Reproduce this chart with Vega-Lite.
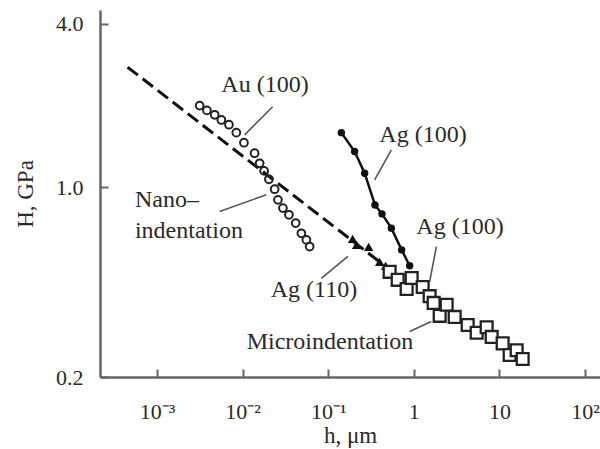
{
  "$schema": "https://vega.github.io/schema/vega-lite/v6.json",
  "width": 500,
  "height": 367,
  "autosize": {"type": "none"},
  "padding": {"left": 100, "top": 10, "right": 0, "bottom": 72},
  "background": "white",
  "config": {
    "view": {"stroke": null},
    "font": "Liberation Serif",
    "axis": {
      "grid": false,
      "domainColor": "#666",
      "domainWidth": 2.5,
      "tickColor": "#666",
      "tickWidth": 2,
      "tickSize": -8,
      "labelFont": "Liberation Serif",
      "labelFontSize": 22,
      "labelColor": "#2a2a2a",
      "titleFont": "Liberation Serif",
      "titleFontSize": 23,
      "titleFontWeight": "normal",
      "titleColor": "#2a2a2a"
    }
  },
  "datasets": {
    "au": [
      {"h": 0.00315, "H": 2.00}, {"h": 0.00383, "H": 1.92}, {"h": 0.00472, "H": 1.85},
      {"h": 0.00565, "H": 1.77}, {"h": 0.00693, "H": 1.70}, {"h": 0.00845, "H": 1.59},
      {"h": 0.01037, "H": 1.46}, {"h": 0.01382, "H": 1.335}, {"h": 0.01582, "H": 1.226},
      {"h": 0.01785, "H": 1.149}, {"h": 0.0203, "H": 1.070}, {"h": 0.02368, "H": 0.984},
      {"h": 0.02587, "H": 0.899}, {"h": 0.0296, "H": 0.838}, {"h": 0.0348, "H": 0.792},
      {"h": 0.0417, "H": 0.738}, {"h": 0.0486, "H": 0.677}, {"h": 0.0556, "H": 0.640},
      {"h": 0.0607, "H": 0.605}
    ],
    "dash": [
      {"h": 0.000454, "H": 2.77}, {"h": 0.4564, "H": 0.514}
    ],
    "tri": [
      {"h": 0.193, "H": 0.645}, {"h": 0.215, "H": 0.613}, {"h": 0.297, "H": 0.603},
      {"h": 0.399, "H": 0.531}, {"h": 0.469, "H": 0.514}
    ],
    "agnano": [
      {"h": 0.1424, "H": 1.590}, {"h": 0.2037, "H": 1.354}, {"h": 0.2666, "H": 1.127},
      {"h": 0.352, "H": 0.861}, {"h": 0.425, "H": 0.798}, {"h": 0.5466, "H": 0.707},
      {"h": 0.721, "H": 0.588}, {"h": 0.894, "H": 0.514}
    ],
    "sq": [
      {"h": 0.522, "H": 0.488}, {"h": 0.648, "H": 0.456}, {"h": 0.825, "H": 0.422},
      {"h": 0.944, "H": 0.463}, {"h": 1.269, "H": 0.429}, {"h": 1.531, "H": 0.397},
      {"h": 1.705, "H": 0.375}, {"h": 2.005, "H": 0.336}, {"h": 2.419, "H": 0.369},
      {"h": 3.0, "H": 0.333}, {"h": 4.257, "H": 0.311}, {"h": 5.423, "H": 0.291},
      {"h": 7.096, "H": 0.305}, {"h": 8.118, "H": 0.281}, {"h": 10.91, "H": 0.266},
      {"h": 13.17, "H": 0.241}, {"h": 15.9, "H": 0.251}, {"h": 18.69, "H": 0.233}
    ],
    "leaders": [
      {"h": 0.02244, "H": 1.98, "h2": 0.01057, "H2": 1.56},
      {"h": 0.5466, "H": 1.374, "h2": 0.3488, "H2": 1.065},
      {"h": 0.00539, "H": 0.815, "h2": 0.01894, "H2": 0.938},
      {"h": 1.834, "H": 0.605, "h2": 1.531, "H2": 0.448},
      {"h": 0.0832, "H": 0.462, "h2": 0.170, "H2": 0.556},
      {"h": 0.894, "H": 0.294, "h2": 1.603, "H2": 0.320}
    ],
    "labels": [
      {"h": 0.01827, "H": 2.386, "text": "Au (100)"},
      {"h": 1.280, "H": 1.561, "text": "Ag (100)"},
      {"h": 3.464, "H": 0.715, "text": "Ag (100)"},
      {"h": 0.0682, "H": 0.4184, "text": "Ag (110)"},
      {"h": 0.1050, "H": 0.2693, "text": "Microindentation"}
    ],
    "leftlabels": [
      {"h": 0.000553, "H": 0.899, "text": "Nano–"},
      {"h": 0.000553, "H": 0.691, "text": "indentation"}
    ]
  },
  "layer": [
    {
      "data": {"name": "leaders"},
      "mark": {"type": "rule", "color": "#555", "strokeWidth": 1.6},
      "encoding": {
        "x": {
          "field": "h", "type": "quantitative",
          "scale": {"type": "log", "domain": [0.000216, 149.6], "nice": false},
          "axis": {
            "values": [0.001, 0.01, 0.1, 1, 10, 100],
            "labelExpr": "datum.value < 0.0015 ? '10⁻³' : datum.value < 0.015 ? '10⁻²' : datum.value < 0.15 ? '10⁻¹' : datum.value < 1.5 ? '1' : datum.value < 15 ? '10' : '10²'",
            "labelPadding": 32,
            "title": "h, μm",
            "titlePadding": 2
          }
        },
        "y": {
          "field": "H", "type": "quantitative",
          "scale": {"type": "log", "domain": [0.2, 4.5], "nice": false},
          "axis": {
            "values": [0.2, 1, 4],
            "format": ".1f",
            "labelPadding": 25,
            "title": "H, GPa",
            "titlePadding": 18
          }
        },
        "x2": {"field": "h2"},
        "y2": {"field": "H2"}
      }
    },
    {
      "data": {"name": "dash"},
      "mark": {"type": "line", "color": "#111", "strokeWidth": 3, "strokeDash": [13, 6]},
      "encoding": {
        "x": {"field": "h", "type": "quantitative"},
        "y": {"field": "H", "type": "quantitative"}
      }
    },
    {
      "data": {"name": "agnano"},
      "mark": {"type": "line", "color": "#111", "strokeWidth": 2.5},
      "encoding": {
        "x": {"field": "h", "type": "quantitative"},
        "y": {"field": "H", "type": "quantitative"}
      }
    },
    {
      "data": {"name": "agnano"},
      "mark": {"type": "point", "shape": "circle", "filled": true, "color": "#111", "size": 55, "opacity": 1},
      "encoding": {
        "x": {"field": "h", "type": "quantitative"},
        "y": {"field": "H", "type": "quantitative"}
      }
    },
    {
      "data": {"name": "tri"},
      "mark": {"type": "point", "shape": "triangle-up", "filled": true, "color": "#111", "size": 90, "opacity": 1},
      "encoding": {
        "x": {"field": "h", "type": "quantitative"},
        "y": {"field": "H", "type": "quantitative"}
      }
    },
    {
      "data": {"name": "au"},
      "mark": {"type": "point", "shape": "circle", "filled": false, "color": "#222", "strokeWidth": 2, "size": 60, "opacity": 1},
      "encoding": {
        "x": {"field": "h", "type": "quantitative"},
        "y": {"field": "H", "type": "quantitative"}
      }
    },
    {
      "data": {"name": "sq"},
      "mark": {"type": "point", "shape": "square", "filled": true, "fill": "white", "stroke": "#222", "strokeWidth": 2.3, "size": 140, "opacity": 1},
      "encoding": {
        "x": {"field": "h", "type": "quantitative"},
        "y": {"field": "H", "type": "quantitative"}
      }
    },
    {
      "data": {"name": "labels"},
      "mark": {"type": "text", "font": "Liberation Serif", "fontSize": 24, "color": "#2a2a2a", "baseline": "middle", "align": "center"},
      "encoding": {
        "x": {"field": "h", "type": "quantitative"},
        "y": {"field": "H", "type": "quantitative"},
        "text": {"field": "text"}
      }
    },
    {
      "data": {"name": "leftlabels"},
      "mark": {"type": "text", "font": "Liberation Serif", "fontSize": 24, "color": "#2a2a2a", "baseline": "middle", "align": "left"},
      "encoding": {
        "x": {"field": "h", "type": "quantitative"},
        "y": {"field": "H", "type": "quantitative"},
        "text": {"field": "text"}
      }
    }
  ]
}
